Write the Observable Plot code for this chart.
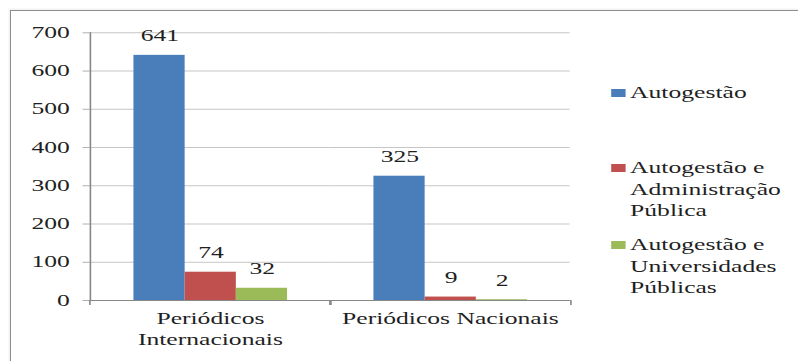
<!DOCTYPE html>
<html>
<head>
<meta charset="utf-8">
<script src="https://cdn.jsdelivr.net/npm/d3@7"></script>
<script src="https://cdn.jsdelivr.net/npm/@observablehq/plot@0.6"></script>
<style>
  html, body { margin: 0; padding: 0; background: #ffffff; }
  body { width: 798px; height: 361px; overflow: hidden; position: relative; }
  #border {
    position: absolute; left: 10px; top: 10px; width: 900px; height: 500px;
    border-top: 1.5px solid #8e8e8e; border-left: 1.5px solid #8e8e8e;
    box-shadow: -1px -1px 2px rgba(0,0,0,0.08);
  }
  #stage {
    position: absolute; left: 0; top: 0; width: 499px; height: 361px;
    transform: scaleX(1.6); transform-origin: 0 0;
    font-family: "Liberation Serif", "DejaVu Serif", serif; color: #1f1f1f;
  }
  #stage svg { position: absolute; left: 0; top: 0; }
  .leg { position: absolute; left: 382.3px; font-size: 16px; line-height: 21.5px; }
  .leg .sw { position: absolute; left: 0; width: 8.3px; height: 8px; }
  .leg .tx { position: absolute; left: 11.5px; white-space: nowrap; }
</style>
</head>
<body>
<div id="border"></div>
<div id="stage"></div>
<script>
// ---- data ----
const categories = ["Periódicos Internacionais", "Periódicos Nacionais"];
const categoryLabels = ["Periódicos\nInternacionais", "Periódicos Nacionais"];
const series = ["Autogestão", "Autogestão e Administração Pública", "Autogestão e Universidades Públicas"];
const legendLines = [["Autogestão"], ["Autogestão e", "Administração", "Pública"], ["Autogestão e", "Universidades", "Públicas"]];
const valuesInternacionais = [641, 74, 32];
const valuesNacionais = [325, 9, 2];
const colors = ["#4a7ebb", "#c0504d", "#9bbb59"];
const yTicks = [0, 100, 200, 300, 400, 500, 600, 700];

const valuesByCategory = [valuesInternacionais, valuesNacionais];
const data = categories.flatMap((c, i) =>
  series.map((s, j) => ({category: c, series: s, value: valuesByCategory[i][j]}))
);

// ---- layout (SVG space, later stretched horizontally 1.6x) ----
const W = 499, H = 361;
const mL = 55.6, mR = 142.1, mT = 32.3, mB = 61;
const halfBand = (W - mL - mR) / categories.length / 2;
const gray = "#878787";
const txt = "#1f1f1f";

const chart = Plot.plot({
  width: W, height: H,
  marginLeft: mL, marginRight: mR, marginTop: mT, marginBottom: mB,
  style: {fontFamily: "'Liberation Serif', 'DejaVu Serif', serif", fontSize: "16px", color: txt, background: "transparent", overflow: "visible"},
  fx: {domain: categories, padding: 0, label: null, axis: null},
  x: {domain: series, paddingInner: 0, paddingOuter: 0.789, axis: null},
  y: {domain: [0, 700], axis: null},
  color: {domain: series, range: colors},
  marks: [
    Plot.gridY(yTicks, {stroke: "#c6c6c6", strokeOpacity: 1}),
    Plot.axisY(yTicks, {tickSize: 4.4, tickPadding: 8.5, label: null, stroke: "#b0b0b0", fill: txt, fontSize: 16}),
    Plot.frame({anchor: "left", facetAnchor: "left", stroke: gray}),
    Plot.barY(data, {fx: "category", x: "series", y: "value", fill: "series"}),
    Plot.text(data, {fx: "category", x: "series", y: "value", text: d => String(d.value), dy: -19, fontSize: 16, fill: txt}),
    Plot.ruleY([0], {stroke: gray}),
    Plot.axisFx({anchor: "bottom", tickSize: 0, tickPadding: 9, lineHeight: 1.28, label: null, fontSize: 16, fill: txt,
      tickFormat: d => categoryLabels[categories.indexOf(d)]}),
    Plot.axisFx({anchor: "bottom", tickSize: 5, dx: -halfBand, label: null, stroke: gray, tickFormat: () => ""}),
    Plot.axisFx({anchor: "bottom", tickSize: 5, dx: halfBand, label: null, stroke: gray, tickFormat: () => ""})
  ]
});

const stage = document.getElementById("stage");
stage.appendChild(chart);

// ---- legend ----
const legendTops = [82, 157, 234];
series.forEach((s, i) => {
  const div = document.createElement("div");
  div.className = "leg";
  div.style.top = legendTops[i] + "px";
  const sw = document.createElement("div");
  sw.className = "sw";
  sw.style.background = colors[i];
  sw.style.top = "7px";
  div.appendChild(sw);
  const tx = document.createElement("div");
  tx.className = "tx";
  tx.innerHTML = legendLines[i].join("<br>");
  div.appendChild(tx);
  stage.appendChild(div);
});
</script>
</body>
</html>
